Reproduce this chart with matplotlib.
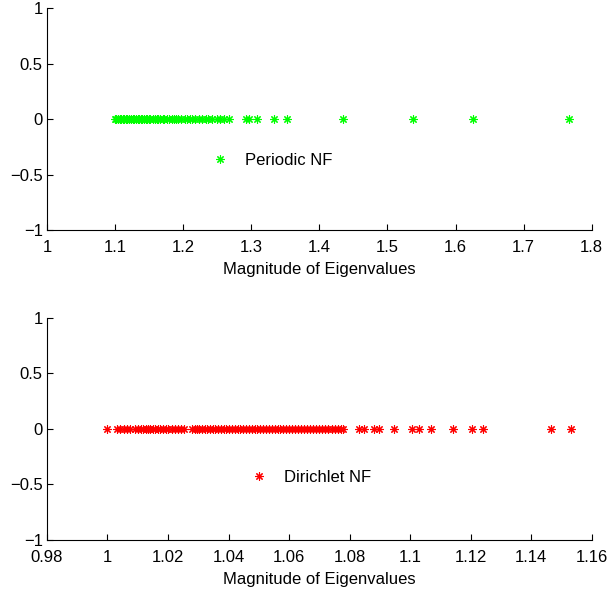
import matplotlib
matplotlib.use("Agg")
import matplotlib.pyplot as plt

plt.rcParams['font.family'] = ['Liberation Sans', 'DejaVu Sans']

periodic_eigs = [
    1.100, 1.102, 1.104, 1.105, 1.107, 1.109, 1.111, 1.113, 1.116, 1.118,
    1.120, 1.121, 1.124, 1.126, 1.128, 1.131, 1.133, 1.135, 1.138, 1.140,
    1.142, 1.145, 1.147, 1.150, 1.152, 1.155, 1.158, 1.161, 1.163, 1.166,
    1.170, 1.172, 1.176, 1.179, 1.183, 1.187, 1.190, 1.193, 1.197, 1.202,
    1.205, 1.210, 1.213, 1.218, 1.223, 1.227, 1.233, 1.236, 1.243, 1.249,
    1.254, 1.260, 1.268, 1.292, 1.297, 1.308, 1.333, 1.352, 1.435, 1.537,
    1.626, 1.766,
]

dirichlet_eigs = [
    0.9998, 1.0030, 1.0042, 1.0055, 1.0063, 1.0075, 1.0090, 1.0102, 1.0110,
    1.0118, 1.0126, 1.0135, 1.0142, 1.0150, 1.0158, 1.0166, 1.0175, 1.0183,
    1.0192, 1.0200, 1.0212, 1.0222, 1.0232, 1.0242, 1.0252, 1.0280, 1.0288,
    1.0296, 1.0304, 1.0312, 1.0322, 1.0330, 1.0338, 1.0348, 1.0356, 1.0365,
    1.0375, 1.0385, 1.0393, 1.0402, 1.0410, 1.0420, 1.0430, 1.0438, 1.0448,
    1.0458, 1.0466, 1.0476, 1.0486, 1.0495, 1.0505, 1.0514, 1.0524, 1.0534,
    1.0542, 1.0552, 1.0562, 1.0570, 1.0580, 1.0590, 1.0600, 1.0610, 1.0618,
    1.0628, 1.0640, 1.0650, 1.0660, 1.0668, 1.0678, 1.0688, 1.0700, 1.0710,
    1.0720, 1.0730, 1.0742, 1.0752, 1.0762, 1.0770, 1.0778, 1.0830, 1.0846,
    1.0880, 1.0896, 1.0948, 1.1005, 1.1028, 1.1070, 1.1143, 1.1203, 1.1242,
    1.1467, 1.1530,
]

top_xticks = [1, 1.1, 1.2, 1.3, 1.4, 1.5, 1.6, 1.7, 1.8]
top_xticklabels = ['1', '1.1', '1.2', '1.3', '1.4', '1.5', '1.6', '1.7', '1.8']
bot_xticks = [0.98, 1.0, 1.02, 1.04, 1.06, 1.08, 1.1, 1.12, 1.14, 1.16]
bot_xticklabels = ['0.98', '1', '1.02', '1.04', '1.06', '1.08', '1.1', '1.12', '1.14', '1.16']
yticks = [-1, -0.5, 0, 0.5, 1]
yticklabels = ['\u22121', '\u22120.5', '0', '0.5', '1']

fig = plt.figure(figsize=(6.10, 5.96), dpi=100)
ax1 = fig.add_axes([0.077, 0.614, 0.893, 0.3725])
ax2 = fig.add_axes([0.077, 0.094, 0.893, 0.3725])

star = (8, 2, 0)

def style(ax, xticks, xlabels, xlim):
    ax.set_xlim(*xlim)
    ax.set_ylim(-1, 1)
    ax.set_xticks(xticks)
    ax.set_xticklabels(xlabels)
    ax.set_yticks(yticks)
    ax.set_yticklabels(yticklabels)
    ax.spines['top'].set_visible(False)
    ax.spines['right'].set_visible(False)
    ax.tick_params(direction='in', length=4, labelsize=12)
    ax.tick_params(axis='x', pad=7)
    ax.tick_params(axis='y', pad=3)
    ax.set_xlabel('Magnitude of Eigenvalues', fontsize=12, labelpad=5)

ax1.plot(periodic_eigs, [0] * len(periodic_eigs), linestyle='none', marker=star,
         markersize=6, markeredgewidth=0.8, color=(0, 1, 0), label='Periodic NF')
style(ax1, top_xticks, top_xticklabels, (1, 1.8))
ax1.legend(loc='center', bbox_to_anchor=(0.413, 0.315), frameon=False, fontsize=12,
           handlelength=1.0, handletextpad=1.0, numpoints=1)

ax2.plot(dirichlet_eigs, [0] * len(dirichlet_eigs), linestyle='none', marker=star,
         markersize=6, markeredgewidth=0.8, color=(1, 0, 0), label='Dirichlet NF')
style(ax2, bot_xticks, bot_xticklabels, (0.98, 1.16))
ax2.legend(loc='center', bbox_to_anchor=(0.485, 0.28), frameon=False, fontsize=12,
           handlelength=1.0, handletextpad=1.0, numpoints=1)

fig.savefig('out.png', dpi=100)
